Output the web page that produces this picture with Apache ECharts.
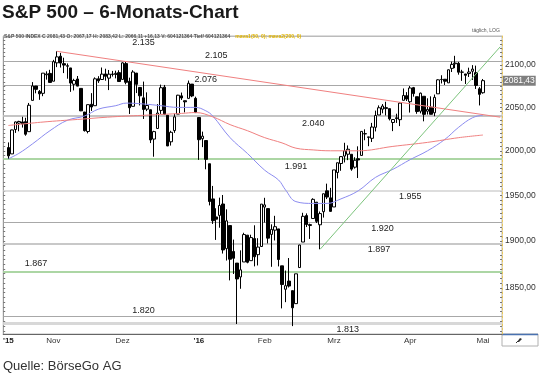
<!DOCTYPE html>
<html><head><meta charset="utf-8">
<script src="https://cdn.jsdelivr.net/npm/echarts@6/dist/echarts.min.js"></script>
<style>html,body{margin:0;padding:0;background:#fff}#c{width:540px;height:377px}</style>
</head><body><div id="c"></div>
<script>
// rows: [date, open, high, low, close]
const oct2015 = [
['2015-10-14',2003.66,2009.56,1990.73,1994.24],['2015-10-15',1996.47,2024.15,1996.47,2023.86],
['2015-10-16',2024.37,2033.54,2020.46,2033.11],['2015-10-19',2031.73,2034.45,2022.31,2033.66],
['2015-10-20',2033.13,2039.12,2026.61,2030.77],['2015-10-21',2033.47,2037.97,2017.22,2018.94],
['2015-10-22',2021.88,2055.20,2021.88,2052.51],['2015-10-23',2058.19,2079.74,2058.19,2075.15],
['2015-10-26',2075.08,2075.14,2066.53,2071.18],['2015-10-27',2068.75,2070.37,2058.84,2065.89],
['2015-10-28',2066.48,2090.35,2063.11,2090.35],['2015-10-29',2088.35,2092.52,2082.63,2089.41],
['2015-10-30',2090.00,2094.32,2079.34,2079.36]];
const nov2015 = [
['2015-11-02',2080.76,2106.20,2080.76,2104.05],['2015-11-03',2102.63,2116.48,2097.51,2109.79],
['2015-11-04',2110.60,2114.59,2096.98,2102.31],['2015-11-05',2101.68,2108.78,2090.41,2099.93],
['2015-11-06',2098.60,2101.91,2083.74,2099.20],['2015-11-09',2096.56,2096.56,2068.24,2078.58],
['2015-11-10',2077.19,2083.67,2069.91,2081.72],['2015-11-11',2083.41,2086.94,2074.85,2075.00],
['2015-11-12',2072.29,2072.29,2045.66,2045.97],['2015-11-13',2044.64,2044.64,2022.02,2023.04],
['2015-11-16',2022.08,2053.22,2019.94,2053.19],['2015-11-17',2053.67,2066.69,2045.90,2050.44],
['2015-11-18',2051.99,2085.31,2051.99,2083.58],['2015-11-19',2083.70,2086.74,2078.76,2081.24],
['2015-11-20',2082.82,2097.06,2082.82,2089.17],['2015-11-23',2089.41,2095.61,2081.39,2086.59],
['2015-11-24',2084.42,2094.12,2070.29,2089.14],['2015-11-25',2089.30,2093.00,2086.30,2088.87],
['2015-11-27',2088.82,2093.29,2084.13,2090.11],['2015-11-30',2090.95,2093.81,2080.41,2080.41]];
const dec2015 = [
['2015-12-01',2082.93,2103.37,2082.93,2102.63],['2015-12-02',2101.71,2104.27,2077.11,2079.51],
['2015-12-03',2080.71,2085.00,2042.35,2049.62],['2015-12-04',2051.24,2093.84,2051.24,2091.69],
['2015-12-07',2090.42,2090.42,2066.78,2077.07],['2015-12-08',2073.39,2073.85,2052.32,2063.59],
['2015-12-09',2061.17,2080.33,2036.53,2047.62],['2015-12-10',2047.93,2067.65,2045.67,2052.23],
['2015-12-11',2047.27,2047.27,2008.80,2012.37],['2015-12-14',2013.37,2022.92,1993.26,2021.94],
['2015-12-15',2025.55,2053.87,2025.55,2043.41],['2015-12-16',2046.50,2076.72,2042.43,2073.07],
['2015-12-17',2073.76,2076.37,2041.66,2041.89],['2015-12-18',2040.81,2040.81,2005.33,2005.55],
['2015-12-21',2010.27,2022.90,2005.93,2021.15],['2015-12-22',2023.15,2042.74,2020.49,2038.97],
['2015-12-23',2042.20,2064.73,2042.20,2064.29],['2015-12-24',2063.52,2067.36,2058.73,2060.99],
['2015-12-28',2057.77,2057.77,2044.20,2056.50],['2015-12-29',2060.54,2081.56,2060.54,2078.36],
['2015-12-30',2077.34,2077.34,2061.97,2063.36],['2015-12-31',2060.59,2062.54,2043.62,2043.94]];
const jan2016 = [
['2016-01-04',2038.20,2038.20,1989.68,2012.66],['2016-01-05',2013.78,2021.94,2004.17,2016.71],
['2016-01-06',2011.71,2011.71,1979.05,1990.26],['2016-01-07',1985.32,1985.32,1938.83,1943.09],
['2016-01-08',1945.97,1960.40,1918.46,1922.03],['2016-01-11',1926.12,1935.65,1901.10,1923.67],
['2016-01-12',1927.83,1947.38,1914.35,1938.68],['2016-01-13',1940.34,1950.33,1886.41,1890.28],
['2016-01-14',1891.68,1934.47,1878.93,1921.84],['2016-01-15',1916.68,1916.68,1857.83,1880.33],
['2016-01-19',1888.66,1901.44,1864.60,1881.33],['2016-01-20',1876.18,1876.18,1812.29,1859.33],
['2016-01-21',1861.46,1889.85,1848.98,1868.99],['2016-01-22',1877.40,1908.85,1877.40,1906.90],
['2016-01-25',1906.28,1906.28,1875.97,1877.08],['2016-01-26',1878.79,1906.73,1878.79,1903.63],
['2016-01-27',1902.52,1916.99,1872.70,1882.95],['2016-01-28',1885.22,1902.96,1873.65,1893.36],
['2016-01-29',1894.00,1940.24,1894.00,1940.24]];
const feb2016 = [
['2016-02-01',1936.94,1947.20,1920.03,1939.38],['2016-02-02',1935.26,1935.26,1897.29,1903.03],
['2016-02-03',1907.07,1918.01,1872.23,1912.53],['2016-02-04',1911.67,1927.35,1900.52,1915.45],
['2016-02-05',1913.07,1913.07,1872.65,1880.05],['2016-02-08',1873.25,1873.25,1828.46,1853.44],
['2016-02-09',1848.46,1868.25,1834.94,1852.21],['2016-02-10',1857.10,1881.60,1850.32,1851.86],
['2016-02-11',1847.00,1847.00,1810.10,1829.08],['2016-02-12',1833.40,1864.78,1833.40,1864.78],
['2016-02-16',1871.44,1895.77,1871.44,1895.58],['2016-02-17',1898.80,1930.68,1898.80,1926.82],
['2016-02-18',1927.57,1930.00,1915.09,1917.83],['2016-02-19',1916.74,1918.78,1902.17,1917.78],
['2016-02-22',1924.44,1946.70,1924.44,1945.50],['2016-02-23',1942.38,1942.38,1919.44,1921.27],
['2016-02-24',1917.56,1932.08,1891.00,1929.80],['2016-02-25',1931.87,1951.83,1925.41,1951.70],
['2016-02-26',1954.95,1962.96,1945.78,1948.05],['2016-02-29',1947.13,1958.27,1931.81,1932.23]];
const mar2016 = [
['2016-03-01',1937.09,1978.35,1937.09,1978.35],['2016-03-02',1975.48,1986.51,1968.80,1986.45],
['2016-03-03',1985.60,1993.69,1977.37,1993.40],['2016-03-04',1994.01,2009.13,1986.77,1999.99],
['2016-03-07',1996.11,2006.12,1989.38,2001.76],['2016-03-08',1996.05,1996.05,1977.43,1979.26],
['2016-03-09',1981.44,1992.69,1979.84,1989.26],['2016-03-10',1990.97,2005.08,1969.25,1989.57],
['2016-03-11',1994.71,2022.37,1994.71,2022.19],['2016-03-14',2019.27,2024.57,2012.05,2019.64],
['2016-03-15',2015.27,2015.94,2005.23,2015.93],['2016-03-16',2014.24,2032.02,2010.04,2027.22],
['2016-03-17',2026.90,2046.24,2022.16,2040.59],['2016-03-18',2041.16,2052.36,2041.16,2049.58],
['2016-03-21',2047.88,2053.91,2043.14,2051.60],['2016-03-22',2048.64,2056.60,2040.57,2049.80],
['2016-03-23',2048.55,2048.55,2034.86,2036.71],['2016-03-24',2032.48,2036.04,2022.49,2035.94],
['2016-03-28',2037.89,2042.67,2031.96,2037.05],['2016-03-29',2035.75,2055.91,2028.31,2055.01],
['2016-03-30',2058.27,2072.21,2058.27,2063.95],['2016-03-31',2063.77,2067.92,2057.46,2059.74]];
const apr2016 = [
['2016-04-01',2056.62,2075.07,2043.98,2072.78],['2016-04-04',2073.19,2074.02,2062.57,2066.13],
['2016-04-05',2062.50,2062.50,2042.56,2045.17],['2016-04-06',2045.56,2067.33,2043.09,2066.66],
['2016-04-07',2063.01,2063.01,2033.80,2041.91],['2016-04-08',2045.54,2060.63,2041.69,2047.60],
['2016-04-11',2050.23,2062.93,2041.88,2041.99],['2016-04-12',2043.72,2065.05,2039.74,2061.72],
['2016-04-13',2065.92,2083.18,2065.92,2082.42],['2016-04-14',2082.89,2087.84,2078.13,2082.78],
['2016-04-15',2083.10,2083.22,2076.31,2080.73],['2016-04-18',2078.83,2094.66,2078.83,2094.34],
['2016-04-19',2096.05,2104.05,2091.68,2100.80],['2016-04-20',2101.52,2111.05,2096.32,2102.40],
['2016-04-21',2102.09,2103.78,2088.52,2091.48],['2016-04-22',2091.49,2094.32,2081.20,2091.58],
['2016-04-25',2089.37,2089.37,2077.52,2087.79],['2016-04-26',2089.84,2096.86,2085.80,2091.70],
['2016-04-27',2092.57,2099.89,2082.31,2095.15],['2016-04-28',2090.93,2099.30,2071.62,2075.81],
['2016-04-29',2071.82,2073.85,2052.28,2065.30]];
const may2016 = [['2016-05-02',2067.17,2083.42,2066.11,2081.43]];

// moving averages: [date, value]
const ma50 = [
['2015-10-14',1991],['2015-10-19',1997],['2015-10-23',2008],['2015-10-30',2023],['2015-11-06',2035],
['2015-11-13',2040],['2015-11-19',2048],['2015-11-27',2052],['2015-12-02',2055],['2015-12-09',2054],
['2015-12-16',2052],['2015-12-23',2050],['2015-12-31',2050],['2016-01-06',2046],['2016-01-08',2040],
['2016-01-15',2015],['2016-01-25',1997],['2016-02-01',1978],['2016-02-05',1967],['2016-02-09',1956],
['2016-02-12',1943],['2016-02-22',1941],['2016-02-26',1941],['2016-03-03',1946],['2016-03-10',1955],
['2016-03-17',1970],['2016-03-24',1979],['2016-04-01',1990],['2016-04-08',2000],['2016-04-15',2013],
['2016-04-21',2027],['2016-04-27',2038],['2016-05-02',2041]];
const ma200 = [
['2015-10-14',2029],['2015-10-28',2033],['2015-11-11',2036],['2015-11-25',2039],['2015-12-10',2041],
['2015-12-24',2043],['2015-12-31',2044],['2016-01-08',2039],['2016-01-15',2030],['2016-01-25',2023],
['2016-02-01',2015],['2016-02-08',2009],['2016-02-12',2003],['2016-02-22',2001],['2016-02-29',2000],
['2016-03-10',2000],['2016-03-24',2005],['2016-04-08',2009.6],['2016-04-21',2015],['2016-05-02',2018]];

// trend lines: [date or right-edge slot, value]
const trendDown = [['2015-11-03',2116.5],['R5',2038.6]];
const trendUp = [['2016-02-24',1891],['R5',2122]];

// horizontal levels and their labels
const levels = [2135,2105,2076,2040,1991,1955,1920,1897,1867,1820,1813];
const yTickLabels = [1850,1900,1950,2000,2050,2100];
const monthLabels = [['2015-10-14',"'15"],['2015-11-02','Nov'],['2015-12-01','Dez'],['2016-01-04',"'16"],
  ['2016-02-01','Feb'],['2016-03-01','Mrz'],['2016-04-01','Apr'],['2016-05-02','Mai']];

const rows = [].concat(oct2015, nov2015, dec2015, jan2016, feb2016, mar2016, apr2016, may2016);
const categories = ['L0'].concat(rows.map(r => r[0]), ['R1','R2','R3','R4','R5']);
const candleData = rows.map(r => [r[0], r[1], r[4], r[3], r[2]]);
const last = rows[rows.length - 1], prev = rows[rows.length - 2];
const de = v => v.toFixed(2).replace('.', ',');
const thousands = v => Math.floor(v / 1000) + '.' + String(v % 1000).padStart(3, '0');
const monthMap = Object.fromEntries(monthLabels);

const levelStyle = {
  2135:{slot:40, dy:7, color:'#bbbbbb', w:1},
  2105:{slot:61, dy:-5, color:'#a8a8a8', w:1},
  2076:{slot:58, dy:-6, color:'#a8a8a8', w:1},
  2040:{slot:89, dy:8, color:'#c4c4c4', w:2},
  1991:{slot:84, dy:8, color:'#acd6a4', w:2},
  1955:{slot:117, dy:6, color:'#d2d2d2', w:1.5},
  1920:{slot:109, dy:6, color:'#a8a8a8', w:1},
  1897:{slot:108, dy:6, color:'#c8c8c8', w:2},
  1867:{slot:9, dy:-8, color:'#acd6a4', w:2},
  1820:{slot:40, dy:-6, color:'#a8a8a8', w:1},
  1813:{slot:99, dy:6, color:'#d8d8d8', w:3}
};
const minorTicks = [];
for (let v = 1805; v <= 2135; v += 5) minorTicks.push(v);

const chart = echarts.init(document.getElementById('c'));
chart.setOption({
  animation: false,
  backgroundColor: '#fff',
  title: [
    {text: 'S&P 500 – 6-Monats-Chart', left: 2, top: 3, padding: 0,
     textStyle: {fontFamily: '"Liberation Sans",Arial,sans-serif', fontWeight: 'bold', fontSize: 19, color: '#1a1a1a'}},
    {text: 'Quelle: BörseGo AG', left: 3, top: 360, padding: 0,
     textStyle: {fontFamily: '"Liberation Sans",Arial,sans-serif', fontWeight: 'normal', fontSize: 13, color: '#333'}},
    {text: '{a|S&P 500 INDEX C ' + de(last[4]) + ' O: ' + de(last[1]) + ' H: ' + de(last[2]) + ' L: ' + de(last[3]) +
       ' +' + de(last[4] - prev[4]) + ' V: 604121364 Tief/ 604121364} {b|mava1(50, 0); mava2(200, 0)}',
     left: 4, top: 28, padding: 0,
     textStyle: {rich: {a: {fontSize: 5, color: '#555', fontFamily: 'Arial'}, b: {fontSize: 5, color: '#e0b400', fontFamily: 'Arial'}}}},
    {text: 'täglich, LOG', left: 472, top: 28, padding: 0, textStyle: {fontSize: 5, color: '#555', fontWeight: 'normal', fontFamily: 'Arial'}}
  ],
  grid: {left: 3, right: 38, top: 36, bottom: 43, show: true, borderColor: '#bbb', borderWidth: 1},
  xAxis: {
    type: 'category', data: categories, boundaryGap: true,
    axisLine: {lineStyle: {color: '#666', width: 1}},
    axisTick: {show: false},
    axisLabel: {
      interval: (i, v) => monthMap[v] !== undefined,
      formatter: v => monthMap[v].startsWith("'") ? '{y|' + monthMap[v] + '}' : monthMap[v],
      fontSize: 8, color: '#333', margin: 3, fontFamily: 'Arial',
      rich: {y: {fontSize: 8, fontWeight: 'bold', color: '#222', fontFamily: 'Arial'}}
    },
    splitLine: {show: false}
  },
  yAxis: [
    {type: 'log', logBase: 10, position: 'right', min: 1802, max: 2135,
     axisLine: {show: true, lineStyle: {color: '#e8c65a', type: [2, 2], width: 1}},
     axisTick: {show: true, inside: true, length: 2, customValues: minorTicks, lineStyle: {color: '#777'}},
     axisLabel: {customValues: yTickLabels, formatter: v => de(v), fontSize: 8.5, color: '#333', margin: 3, fontFamily: 'Arial'},
     splitLine: {show: false}},
    {type: 'log', logBase: 10, position: 'left', min: 1802, max: 2135,
     axisLine: {show: true, lineStyle: {color: '#999', width: 1}},
     axisTick: {show: true, inside: true, length: 2, customValues: minorTicks, lineStyle: {color: '#777'}},
     axisLabel: {show: false}, splitLine: {show: false}}
  ],
  series: [
    {type: 'candlestick', name: 'S&P 500', data: candleData, encode: {x: 0, y: [1, 2, 3, 4]},
     barWidth: 3, z: 3,
     itemStyle: {color: '#fff', color0: '#000', borderColor: '#000', borderColor0: '#000', borderWidth: 1},
     markLine: {silent: true, symbol: ['none', 'none'], z: 1, label: {show: false},
       data: levels.map(v => ({yAxis: v, lineStyle: {color: levelStyle[v].color, width: levelStyle[v].w, type: 'solid'}}))},
     markPoint: {silent: true, symbol: 'circle', symbolSize: 0,
       data: levels.map(v => ({coord: [levelStyle[v].slot, v],
         label: {show: true, formatter: thousands(v), offset: [0, levelStyle[v].dy], fontSize: 9, color: '#222', fontFamily: 'Arial'}}))}
    },
    {type: 'line', name: 'MA50', data: ma50, smooth: 0.4, showSymbol: false, z: 4,
     lineStyle: {color: '#8c8cf0', width: 1}},
    {type: 'line', name: 'MA200', data: ma200, smooth: 0.4, showSymbol: false, z: 4,
     lineStyle: {color: '#f08080', width: 1}},
    {type: 'line', name: 'Trend down', data: trendDown, showSymbol: false, z: 4, lineStyle: {color: '#f08080', width: 1}},
    {type: 'line', name: 'Trend up', data: trendUp, showSymbol: false, z: 4, lineStyle: {color: '#7cc47c', width: 1}},
    {type: 'line', name: 'Last', data: [[last[0], last[4]]], showSymbol: false, clip: false, z: 10,
     lineStyle: {width: 0},
     markLine: {silent: true, symbol: ['none', 'none'], z: 10,
       data: [{yAxis: last[4], lineStyle: {color: 'rgba(0,0,0,0)', width: 1},
         label: {show: true, position: 'end', distance: 1, formatter: de(last[4]), color: '#fff', backgroundColor: '#7f7f7f',
                 opacity: 1, padding: [1, 1, 0, 1], fontSize: 8.5, fontFamily: 'Arial'}}]}}
  ],
  graphic: [
    {type: 'rect', shape: {x: 502, y: 334, width: 36, height: 12}, style: {fill: '#fff', stroke: '#b0b0b0', lineWidth: 1}},
    {type: 'line', shape: {x1: 502, y1: 334.5, x2: 538, y2: 334.5}, style: {stroke: '#4a72b0', lineWidth: 1.5}},
    {type: 'polygon', shape: {points: [[517, 342], [520, 338], [522, 339], [519, 342]]}, style: {fill: '#333'}},
    {type: 'line', shape: {x1: 516, y1: 343, x2: 518, y2: 341}, style: {stroke: '#333', lineWidth: 1}}
  ]
});
</script></body></html>
